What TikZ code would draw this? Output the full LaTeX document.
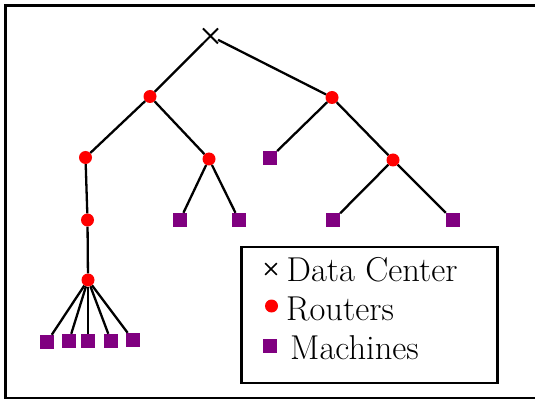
\documentclass[tikz,border=0pt]{standalone}
\usepackage{fontspec}
\usetikzlibrary{shapes.misc}
\definecolor{mpurple}{RGB}{128,0,128}
\begin{document}
\begin{tikzpicture}[x=1pt,y=-1pt,
  router/.style={circle, fill=red, inner sep=0pt, minimum size=13pt},
  machine/.style={rectangle, fill=mpurple, inner sep=0pt, minimum size=14pt},
  dc/.style={cross out, draw, line width=1.8pt, inner sep=0pt, minimum size=10pt},
  edge/.style={line width=2.3pt},
  legtext/.style={anchor=base west, inner sep=0pt, font=\fontsize{34.5}{40}\selectfont}]
\useasboundingbox (0,0) rectangle (535,403);
\draw[line width=2.6pt] (5.5,5.5) rectangle (545,398);
% nodes
\node[dc, outer sep=2.5pt] (dc) at (210.5,36) {};
\node[router] (r1) at (150,96.5) {};
\node[router] (r2) at (332,97.5) {};
\node[router] (r3) at (85.5,157.5) {};
\node[router] (r4) at (209,159) {};
\node[machine] (m1) at (270,158) {};
\node[router] (r5) at (393,160) {};
\node[router] (r6) at (87.5,220) {};
\node[machine] (m2) at (180,220) {};
\node[machine] (m3) at (239,220) {};
\node[machine] (m4) at (333,220.5) {};
\node[machine] (m5) at (453,220) {};
\node[router] (r7) at (88,280) {};
\node[machine] (b1) at (47,342) {};
\node[machine] (b2) at (69,341) {};
\node[machine] (b3) at (88,341) {};
\node[machine] (b4) at (111,341) {};
\node[machine] (b5) at (133,340) {};
% edges
\draw[edge] (dc) -- (r1);
\draw[edge] (dc) -- (r2);
\draw[edge] (r1) -- (r3);
\draw[edge] (r1) -- (r4);
\draw[edge] (r2) -- (m1);
\draw[edge] (r2) -- (r5);
\draw[edge] (r3) -- (r6);
\draw[edge] (r6) -- (r7);
\draw[edge] (r4) -- (m2);
\draw[edge] (r4) -- (m3);
\draw[edge] (r5) -- (m4);
\draw[edge] (r5) -- (m5);
\foreach \b in {b1,b2,b3,b4,b5} \draw[edge] (r7) -- (\b);
% legend
\node[draw, line width=2.6pt, minimum width=256pt, minimum height=136pt, inner sep=0pt] (legend) at (369.5,315) {};
\node[dc, line width=1.6pt] (ldc) at (271,269) {};
\node[router] (lr) at (271.5,306) {};
\node[machine] (lm) at (269.5,346) {};
\node[legtext] (t1) at (286.5,281) {Data Center};
\node[legtext] (t2) at (286,320) {Routers};
\node[legtext] (t3) at (290,359) {Machines};
\end{tikzpicture}
\end{document}
